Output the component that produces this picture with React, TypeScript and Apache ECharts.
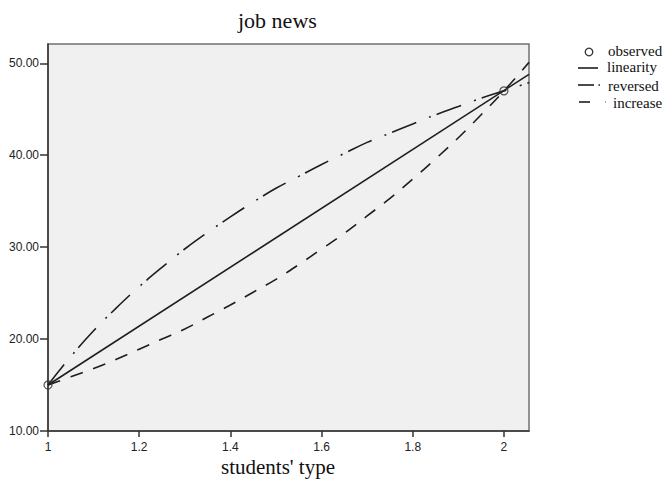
import React, { useEffect, useRef } from "react";
import * as echarts from "echarts";

// Fit grid (x positions where the curves were read)
const curveX = [1.0, 1.05, 1.1, 1.15, 1.2, 1.25, 1.3, 1.35, 1.4, 1.45, 1.5, 1.55, 1.6, 1.65, 1.7, 1.75, 1.8, 1.85, 1.9, 1.95, 2.0, 2.055];
const reversedY = [15.0, 18.1, 20.9, 23.4, 25.7, 27.8, 29.8, 31.6, 33.3, 34.9, 36.4, 37.7, 39.0, 40.2, 41.4, 42.4, 43.4, 44.4, 45.3, 46.2, 47.0, 47.9];
const increaseY = [15.0, 15.9, 16.8, 17.8, 18.9, 20.0, 21.1, 22.4, 23.7, 25.1, 26.5, 28.1, 29.8, 31.5, 33.4, 35.3, 37.4, 39.6, 41.9, 44.4, 47.0, 50.1];
const linearX = [1.0, 2.055];
const linearY = [15.0, 48.8];
const observedX = [1, 2];
const observedY = [15.0, 47.0];

const xTicks = [1, 1.2, 1.4, 1.6, 1.8, 2];
const yTicks = [10, 20, 30, 40, 50];

const zip = (xs: number[], ys: number[]) => xs.map((x, i) => [x, ys[i]]);

export default function App() {
  const ref = useRef<HTMLDivElement>(null);
  useEffect(() => {
    if (!ref.current) return;
    const chart = echarts.init(ref.current, undefined, { renderer: "svg" });
    const serif = "'Liberation Serif', 'Times New Roman', serif";
    const sans = "'Liberation Sans', Arial, sans-serif";
    const ink = "#1e1e1e";
    chart.setOption({
      animation: false,
      backgroundColor: "#ffffff",
      grid: {
        left: 48,
        right: 140,
        top: 44,
        bottom: 48,
        show: true,
        backgroundColor: "#f0f0f0",
        borderColor: "#707070",
        borderWidth: 1.5,
      },
      xAxis: {
        type: "value",
        min: 1,
        max: 2.055,
        axisLine: { show: true, onZero: false, lineStyle: { color: "#333", width: 1.5 } },
        axisTick: { show: true, length: 6, customValues: xTicks, lineStyle: { color: "#333", width: 1.5 } },
        axisLabel: {
          customValues: xTicks,
          margin: 9,
          fontFamily: sans,
          fontSize: 12,
          lineHeight: 13,
          color: "#222",
          formatter: (v: number) => String(Math.round(v * 10) / 10),
        },
        splitLine: { show: false },
      },
      yAxis: {
        type: "value",
        min: 10,
        max: 52.1,
        axisLine: { show: true, onZero: false, lineStyle: { color: "#333", width: 1.5 } },
        axisTick: { show: true, length: 8, customValues: yTicks, lineStyle: { color: "#333", width: 1.5 } },
        axisLabel: {
          customValues: yTicks,
          margin: 9,
          fontFamily: sans,
          fontSize: 12,
          color: "#222",
          formatter: (v: number) => v.toFixed(2),
        },
        splitLine: { show: false },
      },
      graphic: [
        { type: "text", left: 238, top: 9, style: { text: "job news", font: `22px ${serif}`, fill: "#111" } },
        { type: "text", left: 221, top: 456, style: { text: "students' type", font: `21px ${serif}`, fill: "#111", lineHeight: 21 } },
        // legend
        { type: "circle", shape: { cx: 589, cy: 52, r: 3.8 }, style: { fill: "none", stroke: "#333", lineWidth: 1.3 } },
        { type: "text", x: 608, y: 51, style: { text: "observed", font: `15px ${serif}`, fill: "#111", verticalAlign: "middle" } },
        { type: "line", shape: { x1: 578, y1: 68, x2: 598, y2: 68 }, style: { stroke: ink, lineWidth: 1.6 } },
        { type: "text", x: 607, y: 67, style: { text: "linearity", font: `15px ${serif}`, fill: "#111", verticalAlign: "middle" } },
        { type: "line", shape: { x1: 578, y1: 85, x2: 594, y2: 85 }, style: { stroke: ink, lineWidth: 1.6 } },
        { type: "line", shape: { x1: 598.5, y1: 85, x2: 600, y2: 85 }, style: { stroke: ink, lineWidth: 1.6 } },
        { type: "text", x: 608, y: 86, style: { text: "reversed", font: `15px ${serif}`, fill: "#111", verticalAlign: "middle" } },
        { type: "line", shape: { x1: 579, y1: 102, x2: 590, y2: 102 }, style: { stroke: ink, lineWidth: 1.6 } },
        { type: "line", shape: { x1: 605, y1: 102, x2: 606, y2: 102 }, style: { stroke: "#999", lineWidth: 1.4 } },
        { type: "text", x: 613, y: 103, style: { text: "increase", font: `15px ${serif}`, fill: "#111", verticalAlign: "middle" } },
      ],
      series: [
        {
          name: "linearity",
          type: "line",
          data: zip(linearX, linearY),
          showSymbol: false,
          lineStyle: { color: ink, width: 1.6, type: "solid" },
          z: 3,
        },
        {
          name: "reversed",
          type: "line",
          data: zip(curveX, reversedY),
          smooth: 0.4,
          showSymbol: false,
          lineStyle: { color: ink, width: 1.6, type: [26, 14, 2, 6] },
          z: 3,
        },
        {
          name: "increase",
          type: "line",
          data: zip(curveX, increaseY),
          smooth: 0.4,
          showSymbol: false,
          lineStyle: { color: ink, width: 1.6, type: [13, 11] },
          z: 3,
        },
        {
          name: "observed",
          type: "scatter",
          data: zip(observedX, observedY),
          symbol: "circle",
          symbolSize: 8,
          itemStyle: { color: "rgba(0,0,0,0)", borderColor: "#333", borderWidth: 1.3 },
          z: 4,
        },
      ],
    });
    return () => chart.dispose();
  }, []);
  return (
    <div
      ref={ref}
      style={{ position: "fixed", left: 0, top: 0, width: 669, height: 479, background: "#fff" }}
    />
  );
}
